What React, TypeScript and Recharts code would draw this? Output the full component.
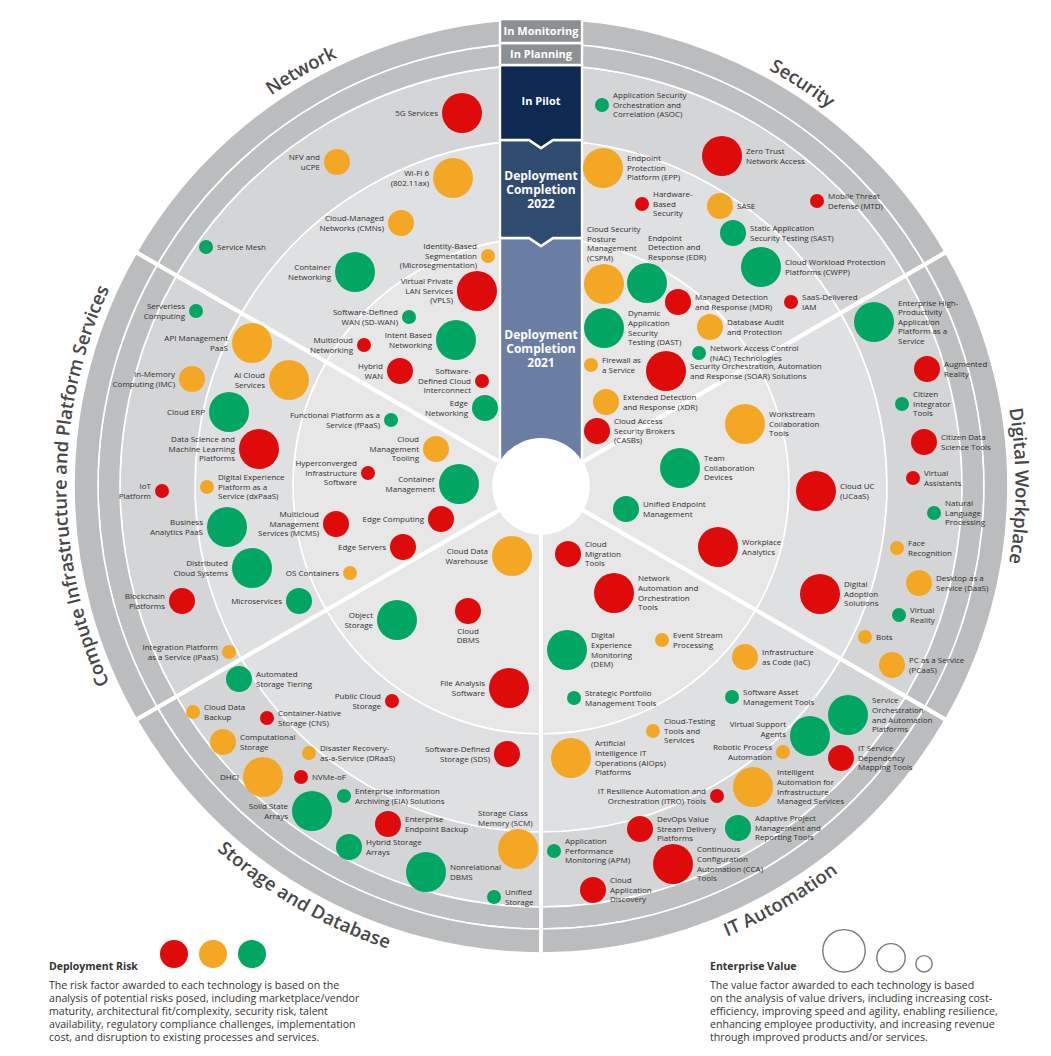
import React from 'react'
import { PieChart, Pie, ScatterChart, Scatter, XAxis, YAxis, Customized } from 'recharts'

const W = 1051
const H = 1056
const CX = 541
const CY = 486
const FONT = "'Open Sans', 'Noto Sans', sans-serif"

// segments, clockwise from 12 o'clock
const SEGMENTS = ['Security', 'Digital Workplace', 'IT Automation', 'Storage and Database', 'Compute Infrastructure and Platform Services', 'Network']

// stages, from the centre outwards
const STAGES = ['Deployment Completion 2021', 'Deployment Completion 2022', 'In Pilot', 'In Planning', 'In Monitoring']

// [technology, x, y, deployment risk, enterprise value]  (x/y relative to the hub)
const NETWORK = [
  ['5G Services', -79, 373, 'H', 3],
  ['NFV and\nuCPE', -204, 324, 'M', 2],
  ['Wi-Fi 6\n(802.11ax)', -88, 308, 'M', 3],
  ['Cloud-Managed\nNetworks (CMNs)', -140, 263, 'M', 2],
  ['Service Mesh', -335, 239, 'L', 1],
  ['Identity-Based\nSegmentation\n(Microsegmentation)', -53, 230, 'M', 1],
  ['Container\nNetworking', -186, 214, 'L', 3],
  ['Virtual Private\nLAN Services\n(VPLS)', -64, 195, 'H', 3],
  ['Software-Defined\nWAN (SD-WAN)', -132, 169, 'L', 1],
  ['Intent Based\nNetworking', -85, 146, 'L', 3],
  ['Multicloud\nNetworking', -177, 141, 'H', 1],
  ['Hybrid\nWAN', -141, 115, 'H', 2],
  ['Software-\nDefined Cloud\nInterconnect', -59, 105, 'H', 1],
  ['Edge\nNetworking', -56, 78, 'L', 2],
]

const COMPUTE = [
  ['Serverless\nComputing', -345, 175, 'L', 1],
  ['API Management\nPaaS', -289, 143, 'M', 3],
  ['In-Memory\nComputing (IMC)', -349, 107, 'M', 2],
  ['AI Cloud\nServices', -252, 106, 'M', 3],
  ['Cloud ERP', -312, 74, 'L', 3],
  ['Functional Platform as a\nService (fPaaS)', -150, 66, 'L', 1],
  ['Data Science and\nMachine Learning\nPlatforms', -282, 37, 'H', 3],
  ['Cloud\nManagement\nTooling', -105, 37, 'M', 2],
  ['Hyperconverged\nInfrastructure\nSoftware', -173, 13, 'H', 1],
  ['Container\nManagement', -82, 2, 'L', 3],
  ['IoT\nPlatform', -379, -5, 'H', 1],
  ['Digital Experience\nPlatform as a\nService (dxPaaS)', -334, -1, 'M', 1],
  ['Multicloud\nManagement\nServices (MCMS)', -205, -38, 'H', 2],
  ['Edge Computing', -100, -33, 'H', 2],
  ['Business\nAnalytics PaaS', -314, -41, 'L', 3],
  ['Edge Servers', -138, -61, 'H', 2],
  ['Distributed\nCloud Systems', -289, -82, 'L', 3],
  ['OS Containers', -191, -87, 'M', 1],
  ['Blockchain\nPlatforms', -359, -115, 'H', 2],
  ['Microservices', -242, -115, 'L', 2],
  ['Integration Platform\nas a Service (iPaaS)', -312, -166, 'M', 1],
]

const STORAGE = [
  ['Cloud Data\nWarehouse', -29, -70, 'M', 3],
  ['Object\nStorage', -144, -134, 'L', 3],
  ['Cloud\nDBMS', -73, -125, 'H', 2],
  ['Automated\nStorage Tiering', -302, -193, 'L', 2],
  ['File Analysis\nSoftware', -32, -202, 'H', 3],
  ['Public Cloud\nStorage', -149, -215, 'H', 1],
  ['Cloud Data\nBackup', -348, -226, 'M', 1],
  ['Container-Native\nStorage (CNS)', -274, -232, 'H', 1],
  ['Computational\nStorage', -318, -256, 'M', 2],
  ['Disaster Recovery-\nas-a-Service (DRaaS)', -232, -267, 'M', 1],
  ['Software-Defined\nStorage (SDS)', -34, -268, 'H', 2],
  ['DHCI', -278, -291, 'M', 3],
  ['NVMe-oF', -240, -291, 'H', 1],
  ['Enterprise Information\nArchiving (EIA) Solutions', -197, -310, 'L', 1],
  ['Solid State\nArrays', -229, -325, 'L', 3],
  ['Enterprise\nEndpoint Backup', -153, -338, 'H', 2],
  ['Hybrid Storage\nArrays', -192, -361, 'L', 2],
  ['Storage Class\nMemory (SCM)', -23, -363, 'M', 3],
  ['Nonrelational\nDBMS', -115, -386, 'L', 3],
  ['Unified\nStorage', -47, -411, 'L', 1],
]

const IT_AUTOMATION = [
  ['Cloud\nMigration\nTools', 27, -68, 'H', 2],
  ['Network\nAutomation and\nOrchestration\nTools', 73, -107, 'H', 3],
  ['Event Stream\nProcessing', 121, -154, 'M', 1],
  ['Digital\nExperience\nMonitoring\n(DEM)', 26, -164, 'L', 3],
  ['Infrastructure\nas Code (IaC)', 204, -171, 'M', 2],
  ['Strategic Portfolio\nManagement Tools', 33, -212, 'L', 1],
  ['Software Asset\nManagement Tools', 191, -211, 'L', 1],
  ['Service\nOrchestration\nand Automation\nPlatforms', 307, -229, 'L', 3],
  ['Cloud-Testing\nTools and\nServices', 112, -245, 'M', 1],
  ['Virtual Support\nAgents', 269, -250, 'L', 3],
  ['Robotic Process\nAutomation', 242, -266, 'M', 1],
  ['Artificial\nIntelligence IT\nOperations (AIOps)\nPlatforms', 30, -272, 'M', 3],
  ['IT Service\nDependency\nMapping Tools', 300, -272, 'H', 2],
  ['Intelligent\nAutomation for\nInfrastructure\nManaged Services', 212, -301, 'M', 3],
  ['IT Resilience Automation and\nOrchestration (ITRO) Tools', 176, -310, 'H', 1],
  ['DevOps Value\nStream Delivery\nPlatforms', 99, -343, 'H', 2],
  ['Adaptive Project\nManagement and\nReporting Tools', 197, -342, 'L', 2],
  ['Application\nPerformance\nMonitoring (APM)', 13, -365, 'L', 1],
  ['Continuous\nConfiguration\nAutomation (CCA)\nTools', 132, -378, 'H', 3],
  ['Cloud\nApplication\nDiscovery', 52, -404, 'H', 2],
]

const DIGITAL_WORKPLACE = [
  ['Enterprise High-\nProductivity\nApplication\nPlatform as a\nService', 333, 164, 'L', 3],
  ['Augmented\nReality', 386, 117, 'H', 2],
  ['Citizen\nIntegrator\nTools', 361, 82, 'L', 1],
  ['Workstream\nCollaboration\nTools', 204, 62, 'M', 3],
  ['Citizen Data\nScience Tools', 383, 44, 'H', 2],
  ['Team\nCollaboration\nDevices', 139, 18, 'L', 3],
  ['Virtual\nAssistants', 372, 8, 'H', 1],
  ['Cloud UC\n(UCaaS)', 275, -5, 'H', 3],
  ['Unified Endpoint\nManagement', 85, -23, 'L', 2],
  ['Natural\nLanguage\nProcessing', 393, -27, 'L', 1],
  ['Workplace\nAnalytics', 177, -61, 'H', 3],
  ['Face\nRecognition', 356, -62, 'M', 1],
  ['Desktop as a\nService (DaaS)', 378, -97, 'M', 2],
  ['Digital\nAdoption\nSolutions', 279, -108, 'H', 3],
  ['Virtual\nReality', 358, -129, 'L', 1],
  ['Bots', 324, -151, 'M', 1],
  ['PC as a Service\n(PCaaS)', 351, -179, 'M', 2],
]

const SECURITY = [
  ['Application Security\nOrchestration and\nCorrelation (ASOC)', 61, 381, 'L', 1],
  ['Zero Trust\nNetwork Access', 181, 330, 'H', 3],
  ['Endpoint\nProtection\nPlatform (EPP)', 62, 318, 'M', 3],
  ['Mobile Threat\nDefense (MTD)', 276, 285, 'H', 1],
  ['Hardware-\nBased\nSecurity', 101, 282, 'H', 1],
  ['SASE', 179, 280, 'M', 2],
  ['Static Application\nSecurity Testing (SAST)', 192, 253, 'L', 2],
  ['Cloud Workload Protection\nPlatforms (CWPP)', 220, 219, 'L', 3],
  ['Cloud Security\nPosture\nManagement\n(CSPM)', 63, 202, 'M', 3],
  ['Endpoint\nDetection and\nResponse (EDR)', 106, 203, 'L', 3],
  ['Managed Detection\nand Response (MDR)', 137, 184, 'H', 2],
  ['SaaS-Delivered\nIAM', 250, 184, 'H', 1],
  ['Dynamic\nApplication\nSecurity\nTesting (DAST)', 63, 158, 'L', 3],
  ['Database Audit\nand Protection', 169, 159, 'M', 2],
  ['Network Access Control\n(NAC) Technologies', 158, 133, 'L', 1],
  ['Firewall as\na Service', 50, 121, 'M', 1],
  ['Security Orchestration, Automation\nand Response (SOAR) Solutions', 125, 115, 'H', 3],
  ['Extended Detection\nand Response (XDR)', 65, 84, 'M', 2],
  ['Cloud Access\nSecurity Brokers\n(CASBs)', 56, 55, 'H', 2],
]

const RISK_NOTE = [
  'The risk factor awarded to each technology is based on the',
  'analysis of potential risks posed, including marketplace/vendor',
  'maturity, architectural fit/complexity, security risk, talent',
  'availability, regulatory compliance challenges, implementation',
  'cost, and disruption to existing processes and services.',
]
const VALUE_NOTE = [
  'The value factor awarded to each technology is based',
  'on the analysis of value drivers, including increasing cost-',
  'efficiency, improving speed and agility, enabling resilience,',
  'enhancing employee productivity, and increasing revenue',
  'through improved products and/or services.',
]

// ---- styles ----
const STAGE_R = [48, 248, 346, 421, 443, 467]
const STAGE_FILL = ['#e7e7e8', '#dfe0e1', '#d4d5d6', '#bdbfc0', '#babcbd']
const COLUMN_FILL = ['#6a7ea3', '#2f4b70', '#0e2a52', '#8d9092', '#8d9092']
const RISK_COLOR: Record<string, string> = { H: '#df0b0b', M: '#f4a724', L: '#00a661' }
const VALUE_R: Record<number, number> = { 1: 7, 2: 13, 3: 20 }
const SEG_LABEL_SHIFT = [-3, 0, 0, 0, 0, 0]
// label placement exceptions: [side, dx, dy]
const LABEL_SIDE: Record<string, [string, number?, number?]> = {
  'Service Mesh': ['r'],
  'Digital Experience\nPlatform as a\nService (dxPaaS)': ['r'],
  'Cloud Data\nWarehouse': ['l'],
  'Object\nStorage': ['l'],
  'File Analysis\nSoftware': ['l'],
  'Public Cloud\nStorage': ['l'],
  'Software-Defined\nStorage (SDS)': ['l'],
  'DHCI': ['l'],
  'Solid State\nArrays': ['l'],
  'Cloud\nDBMS': ['b'],
  'Storage Class\nMemory (SCM)': ['t', -40],
  'Virtual Support\nAgents': ['l', 0, -7],
  'Robotic Process\nAutomation': ['l'],
  'IT Resilience Automation and\nOrchestration (ITRO) Tools': ['l'],
  'Cloud Security\nPosture\nManagement\n(CSPM)': ['t', -17],
  'Endpoint\nDetection and\nResponse (EDR)': ['t', 1],
}

const toPoints = (rows: any[]) => rows.map(([name, x, y, risk, value]) => ({ name, x, y, risk, value }))

const GROUPS = [
  { key: 'security', rows: SECURITY, side: 'r' },
  { key: 'digital', rows: DIGITAL_WORKPLACE, side: 'r' },
  { key: 'itauto', rows: IT_AUTOMATION, side: 'r' },
  { key: 'storage', rows: STORAGE, side: 'r' },
  { key: 'compute', rows: COMPUTE, side: 'l' },
  { key: 'network', rows: NETWORK, side: 'l' },
]

const SEG_DATA = SEGMENTS.map((name) => ({ name, v: 1 }))

const LINE_H = 9.6

const Bubble = (props: any) => {
  const { cx, cy, payload, defaultSide } = props
  if (cx == null || cy == null) return null
  const r = VALUE_R[payload.value]
  const lines: string[] = payload.name.split('\n')
  const [side, dx = 0, dy = 0] = LABEL_SIDE[payload.name] ?? [defaultSide]
  let tx = cx + r + 4
  let anchor = 'start'
  let y0 = cy + dy - ((lines.length - 1) * LINE_H) / 2
  if (side === 'l') {
    tx = cx - r - 4
    anchor = 'end'
  } else if (side === 't') {
    tx = cx + dx
    y0 = cy - r - 6 - (lines.length - 1) * LINE_H
  } else if (side === 'b') {
    tx = cx
    anchor = 'middle'
    y0 = cy + r + 7
  }
  return (
    <g>
      <circle cx={cx} cy={cy} r={r} fill={RISK_COLOR[payload.risk]} />
      <text textAnchor={anchor} fontSize={8} fill="#2f2f2f" fontFamily={FONT}>
        {lines.map((l, i) => (
          <tspan key={i} x={tx} y={y0 + i * LINE_H} dy="0.35em">{l}</tspan>
        ))}
      </text>
    </g>
  )
}

const segmentLabel = (props: any) => {
  const { index, midAngle } = props
  const name = SEGMENTS[index]
  const m = ((midAngle % 360) + 360) % 360 + SEG_LABEL_SHIFT[index]
  const bottom = m > 180 && m < 360
  const R = 481
  const span = 70
  const a1 = ((bottom ? m - span : m + span) * Math.PI) / 180
  const a2 = ((bottom ? m + span : m - span) * Math.PI) / 180
  const p1 = [CX + R * Math.cos(a1), CY - R * Math.sin(a1)]
  const p2 = [CX + R * Math.cos(a2), CY - R * Math.sin(a2)]
  const d = `M ${p1[0]} ${p1[1]} A ${R} ${R} 0 0 ${bottom ? 0 : 1} ${p2[0]} ${p2[1]}`
  const id = `seg-arc-${index}`
  return (
    <g key={id}>
      <defs>
        <path id={id} d={d} />
      </defs>
      <text fontSize={18.5} fontWeight={600} fill="#474747" fontFamily={FONT} dy="0.35em" textAnchor="middle">
        <textPath href={`#${id}`} startOffset="50%">{name}</textPath>
      </text>
    </g>
  )
}

const notch = (y: number) => [[CX + 12, y], [CX, y + 8], [CX - 12, y]]

const Overlay = () => {
  const x0 = CX - 41
  const x1 = CX + 41
  const boxes = STAGES.map((stage, i) => {
    const yTop = CY - STAGE_R[i + 1]
    const yBot = i === 0 ? CY : CY - STAGE_R[i]
    const top = i < 2 ? [[x0, yTop], ...notch(yTop).reverse(), [x1, yTop]] : [[x0, yTop], [x1, yTop]]
    const bot = i === 1 || i === 2 ? [[x1, yBot], ...notch(yBot), [x0, yBot]] : [[x1, yBot], [x0, yBot]]
    const pts = [...top, ...bot].map((p) => p.join(',')).join(' ')
    return <polygon key={stage} points={pts} fill={COLUMN_FILL[i]} stroke="#fff" strokeWidth={2.4} />
  })
  const colText = (lines: string[], ys: number[], size: number) =>
    lines.map((l, i) => (
      <text key={l + i} x={CX} y={ys[i]} dy="0.35em" textAnchor="middle" fontSize={size} fontWeight={700} fill="#fff" fontFamily={FONT}>
        {l}
      </text>
    ))
  const legendValues = [3, 2, 1]
  const legendX = [844, 891, 924]
  return (
    <g>
      {boxes}
      <circle cx={CX} cy={CY} r={STAGE_R[0]} fill="#fff" />
      {colText([STAGES[4]], [31.5], 11)}
      {colText([STAGES[3]], [54], 11)}
      {colText([STAGES[2]], [101], 11)}
      {colText(STAGES[1].split(' '), [176, 190, 204], 12)}
      {colText(STAGES[0].split(' '), [335, 349, 363], 12)}

      {['H', 'M', 'L'].map((k, i) => (
        <circle key={k} cx={174 + i * 39} cy={954} r={14} fill={RISK_COLOR[k]} />
      ))}
      <text x={49} y={966} dy="0.35em" fontSize={10.5} fontWeight={700} fill="#333" fontFamily={FONT}>Deployment Risk</text>
      {RISK_NOTE.map((l, i) => (
        <text key={l} x={49} y={985 + i * 13} dy="0.35em" fontSize={10.6} fill="#333" fontFamily={FONT}>{l}</text>
      ))}

      {legendValues.map((v, i) => (
        <circle key={v} cx={legendX[i]} cy={972 - VALUE_R[v] - 1.2} r={VALUE_R[v] + 1.2} fill="none" stroke="#7a7a7a" strokeWidth={1.4} />
      ))}
      <text x={710} y={966} dy="0.35em" fontSize={10.5} fontWeight={700} fill="#333" fontFamily={FONT}>Enterprise Value</text>
      {VALUE_NOTE.map((l, i) => (
        <text key={l} x={710} y={985 + i * 13} dy="0.35em" fontSize={10.6} fill="#333" fontFamily={FONT}>{l}</text>
      ))}
    </g>
  )
}

export default function App() {
  return (
    <div style={{ position: 'absolute', left: 0, top: 0, width: W, height: H, background: '#fff', fontFamily: FONT }}>
      <div style={{ position: 'absolute', left: 0, top: 0 }}>
        <PieChart width={W} height={H} margin={{ top: 0, right: 0, bottom: 0, left: 0 }}>
          {STAGES.map((s, i) => (
            <Pie
              key={s}
              data={SEG_DATA}
              dataKey="v"
              cx={CX}
              cy={CY}
              innerRadius={STAGE_R[i]}
              outerRadius={STAGE_R[i + 1]}
              startAngle={90}
              endAngle={-270}
              fill={STAGE_FILL[i]}
              stroke="#fff"
              strokeWidth={1.6}
              isAnimationActive={false}
            />
          ))}
          <Pie
            data={SEG_DATA}
            dataKey="v"
            cx={CX}
            cy={CY}
            innerRadius={46}
            outerRadius={469}
            startAngle={90}
            endAngle={-270}
            fill="none"
            stroke="#fff"
            strokeWidth={4}
            isAnimationActive={false}
          />
          <Pie
            data={SEG_DATA}
            dataKey="v"
            cx={CX}
            cy={CY}
            innerRadius={470}
            outerRadius={471}
            startAngle={90}
            endAngle={-270}
            fill="none"
            stroke="none"
            label={segmentLabel}
            labelLine={false}
            isAnimationActive={false}
          />
        </PieChart>
      </div>
      <div style={{ position: 'absolute', left: 0, top: 0 }}>
        <ScatterChart width={W} height={H} margin={{ top: 0, right: 0, bottom: 0, left: 0 }}>
          <XAxis type="number" dataKey="x" domain={[-CX, W - CX]} hide allowDataOverflow />
          <YAxis type="number" dataKey="y" domain={[CY - H, CY]} hide allowDataOverflow />
          <Customized component={Overlay} />
          {GROUPS.map((g) => (
            <Scatter
              key={g.key}
              data={toPoints(g.rows)}
              shape={(p: any) => <Bubble {...p} defaultSide={g.side} />}
              isAnimationActive={false}
            />
          ))}
        </ScatterChart>
      </div>
    </div>
  )
}
